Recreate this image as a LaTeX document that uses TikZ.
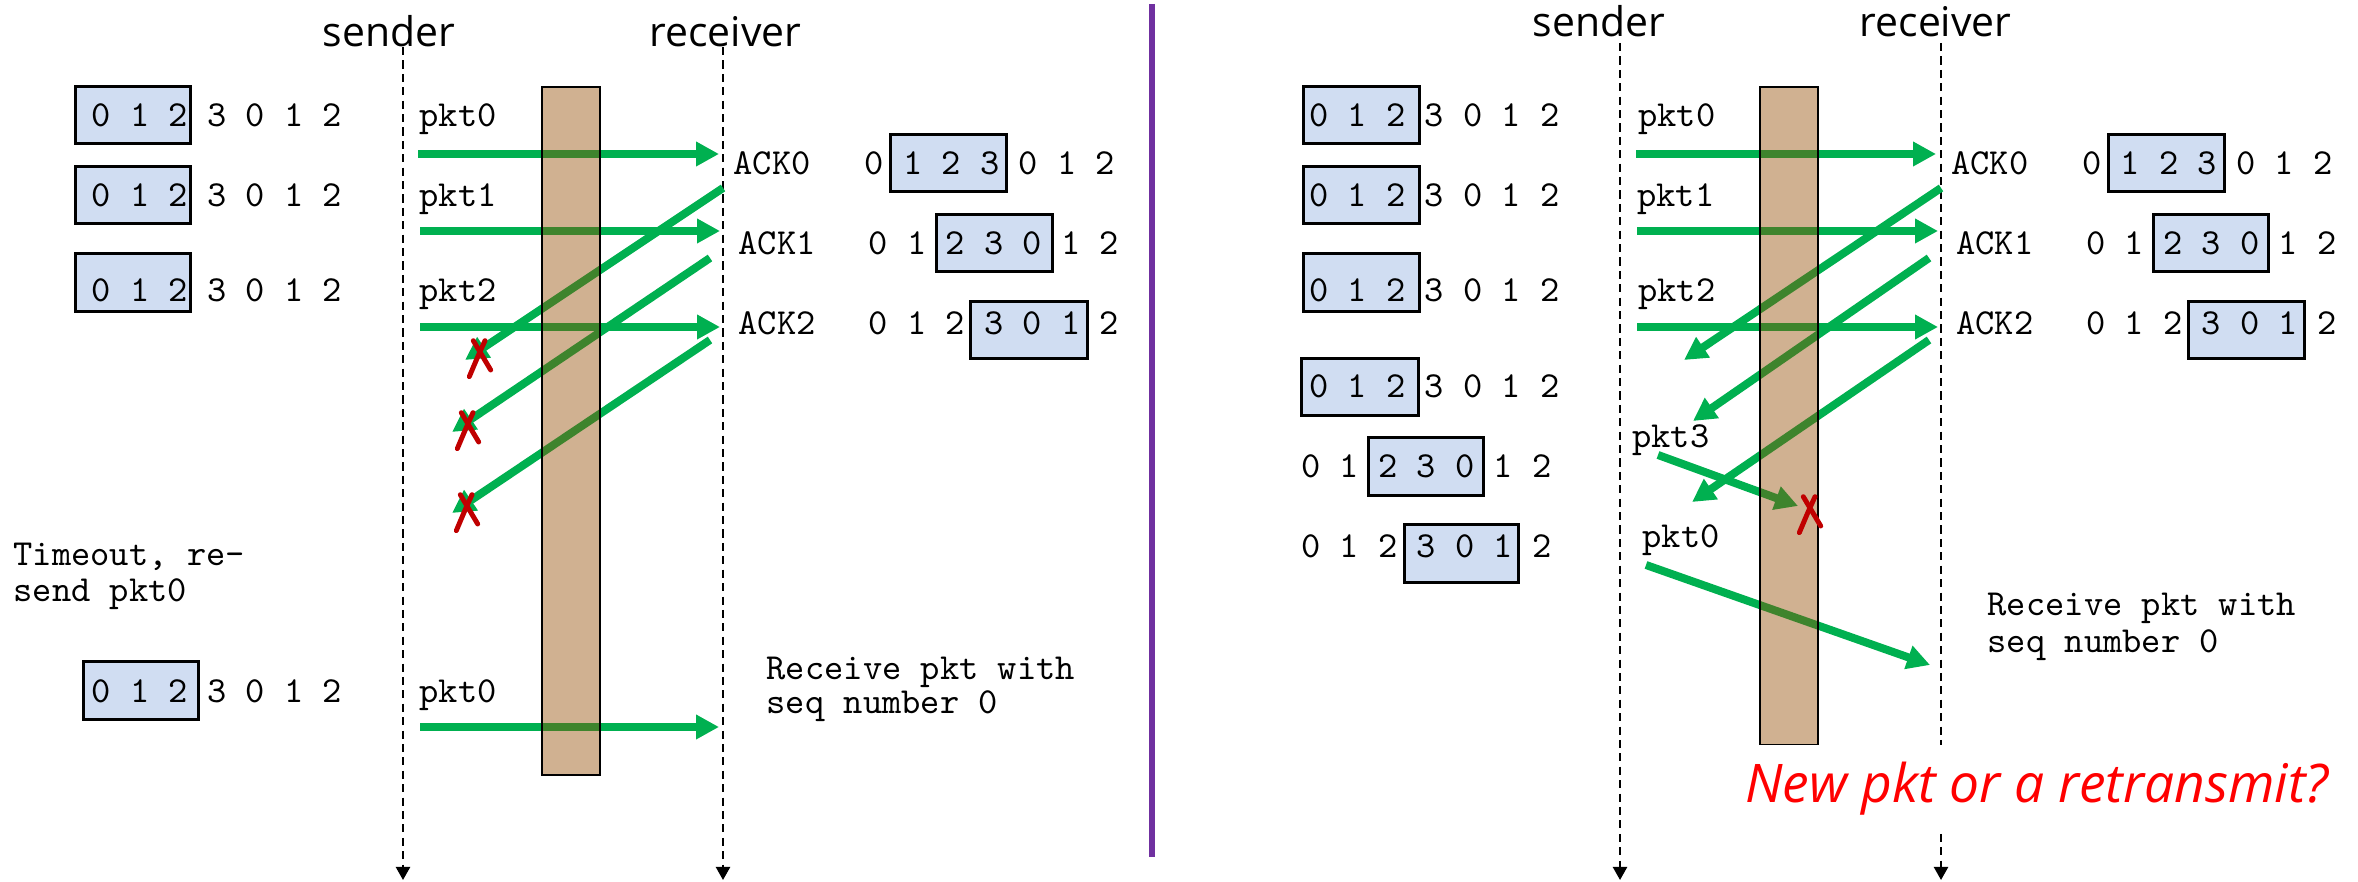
\documentclass[tikz,border=0pt]{standalone}
\usepackage{fontspec}
\setmainfont{Open Sans}
\usetikzlibrary{arrows.meta}

\definecolor{pktgreen}{RGB}{0,176,80}
\definecolor{lossred}{RGB}{192,0,0}
\definecolor{chanbrown}{RGB}{145,75,0}
\definecolor{winblue}{RGB}{208,221,242}
\definecolor{divider}{RGB}{112,48,160}
\definecolor{askred}{RGB}{255,0,0}

\tikzset{
  lane/.style={font=\fontsize{11.6}{14}\selectfont, inner sep=0pt, anchor=base},
  lifeline/.style={line width=0.6pt, dash pattern=on 2.3pt off 1.5pt,
    -{Triangle[length=3.7pt,width=4pt]}},
  mono/.style={font=\ttfamily\fontsize{10.4}{12}\selectfont, inner sep=0pt, anchor=base west},
  winbox/.style={draw=black, fill=winblue, line width=0.85pt},
  channel/.style={fill=chanbrown, fill opacity=0.43, draw=black, line width=0.75pt},
  msg/.style={draw=pktgreen, line width=2.27pt, -{Triangle[length=6.5pt,width=6.6pt]}},
  lossmark/.pic={
    \draw[lossred, line width=1.4pt, line cap=round] (-6.7,-17.3) -- (10.7,12);
    \draw[lossred, line width=1.4pt, line cap=round] (5,-17.3) .. controls (-2,-2) .. (-10.7,18.7);
  },
}

\begin{document}
\begin{tikzpicture}[x=0.28353pt, y=-0.28353pt]
\useasboundingbox (0,0) rectangle (2358,882);

% ---------- lane titles ----------
\node[lane] (Lsender)   at (389,46.5)  {sender};
\node[lane] (Lreceiver) at (725.5,46.5) {receiver};
\node[lane] (Rsender)   at (1599,37)   {sender};
\node[lane] (Rreceiver) at (1935.6,37) {receiver};

% ---------- life lines ----------
\coordinate (LsTop) at (403,47);   \coordinate (LsBot) at (403,880);
\coordinate (LrTop) at (723,47);   \coordinate (LrBot) at (723,880);
\coordinate (RsTop) at (1620,43);  \coordinate (RsBot) at (1620,880);
\coordinate (RrTop) at (1941,43);  \coordinate (RrBot) at (1941,880);
\draw[lifeline] (LsTop) -- (LsBot);
\draw[lifeline] (LrTop) -- (LrBot);
\draw[lifeline] (RsTop) -- (RsBot);
\draw[lifeline] (RrTop) -- (RrBot);

% ---------- divider ----------
\coordinate (DivTop) at (1152,4);
\coordinate (DivBot) at (1152,857);
\draw[divider, line width=1.7pt] (DivTop) -- (DivBot);

% ---------- left: sender windows ----------
\draw[winbox] (75,87) rectangle (190,144);
\draw[winbox] (75,167) rectangle (190,224);
\draw[winbox] (75,254) rectangle (190,312);
\draw[winbox] (83,662) rectangle (198,720);
\node[mono] (Lw1) at (91,126.5) {0 1 2 3 0 1 2};
\node[mono] (Lw2) at (91,206.5) {0 1 2 3 0 1 2};
\node[mono] (Lw3) at (91,301.5) {0 1 2 3 0 1 2};
\node[mono] (Lw4) at (91,702.5) {0 1 2 3 0 1 2};

% ---------- left: receiver windows ----------
\draw[winbox] (890.6,135) rectangle (1006.8,192);
\draw[winbox] (936,215) rectangle (1052,272);
\draw[winbox] (970,302) rectangle (1087,359);
\node[mono] (Lr1) at (864,174.5) {0 1 2 3 0 1 2};
\node[mono] (Lr2) at (868,254.5) {0 1 2 3 0 1 2};
\node[mono] (Lr3) at (868,334.5) {0 1 2 3 0 1 2};

% ---------- left: labels ----------
\node[mono] (Lp0)  at (419,126.5) {pkt0};
\node[mono] (Lp1)  at (419,206.5) {pkt1};
\node[mono] (Lp2)  at (419,302)   {pkt2};
\node[mono] (Lp0b) at (419,702.5) {pkt0};
\node[mono] (La0)  at (733,174.5) {ACK0};
\node[mono] (La1)  at (738,254.5) {ACK1};
\node[mono] (La2)  at (738,334.5) {ACK2};
\node[mono] (Ltimeout1) at (13,565.5) {Timeout, re-};
\node[mono] (Ltimeout2) at (13,601.7) {send pkt0};
\node[mono] (Lrecv1) at (766,679.3) {Receive pkt with};
\node[mono] (Lrecv2) at (766,714)   {seq number 0};

% ---------- right: sender windows ----------
\draw[winbox] (1303.6,87) rectangle (1419,144);
\draw[winbox] (1303.6,167) rectangle (1419,224);
\draw[winbox] (1303.6,254) rectangle (1419,312);
\draw[winbox] (1301.7,359) rectangle (1418.4,416);
\draw[winbox] (1368.7,438) rectangle (1483,496);
\draw[winbox] (1404,525) rectangle (1518.5,583);
\node[mono] (Rw1) at (1308.5,126.5) {0 1 2 3 0 1 2};
\node[mono] (Rw2) at (1308.5,206.5) {0 1 2 3 0 1 2};
\node[mono] (Rw3) at (1308.5,301.5) {0 1 2 3 0 1 2};
\node[mono] (Rw4) at (1308.5,397.5) {0 1 2 3 0 1 2};
\node[mono] (Rw5) at (1300.5,477.5) {0 1 2 3 0 1 2};
\node[mono] (Rw6) at (1300.5,557.5) {0 1 2 3 0 1 2};

% ---------- right: receiver windows ----------
\draw[winbox] (2108,135) rectangle (2224,192);
\draw[winbox] (2153,215) rectangle (2268.5,272);
\draw[winbox] (2188,302) rectangle (2304,359);
\node[mono] (Rr1) at (2081.4,174.5) {0 1 2 3 0 1 2};
\node[mono] (Rr2) at (2085.4,254.5) {0 1 2 3 0 1 2};
\node[mono] (Rr3) at (2085.4,334.5) {0 1 2 3 0 1 2};

% ---------- right: labels ----------
\node[mono] (Rp0)  at (1637.7,126.5) {pkt0};
\node[mono] (Rp1)  at (1636.5,206.5) {pkt1};
\node[mono] (Rp2)  at (1637.7,301.5) {pkt2};
\node[mono] (Rp3)  at (1631.6,448)   {pkt3};
\node[mono] (Rp0b) at (1642,548)     {pkt0};
\node[mono] (Ra0)  at (1950.5,174.5) {ACK0};
\node[mono] (Ra1)  at (1955.5,254.5) {ACK1};
\node[mono] (Ra2)  at (1955.5,334.5) {ACK2};
\node[mono] (Rrecv1) at (1987,616) {Receive pkt with};
\node[mono] (Rrecv2) at (1987,653) {seq number 0};

% ---------- message end points ----------
\coordinate (Lm0s) at (418,154);  \coordinate (Lm0e) at (719,154);
\coordinate (Lm1s) at (420,231);  \coordinate (Lm1e) at (720,231);
\coordinate (Lm2s) at (420,327);  \coordinate (Lm2e) at (720,327);
\coordinate (Lm3s) at (420,727);  \coordinate (Lm3e) at (719,727);
\coordinate (Lk0s) at (723,188);  \coordinate (Lk0e) at (465,360);
\coordinate (Lk1s) at (710,258);  \coordinate (Lk1e) at (452,432);
\coordinate (Lk2s) at (710,340);  \coordinate (Lk2e) at (452,513);

\coordinate (Rm0s) at (1636,154); \coordinate (Rm0e) at (1936,154);
\coordinate (Rm1s) at (1637,231); \coordinate (Rm1e) at (1938,231);
\coordinate (Rm2s) at (1637,327); \coordinate (Rm2e) at (1938,327);
\coordinate (Rm3s) at (1658,455); \coordinate (Rm3e) at (1798,506);
\coordinate (Rm4s) at (1646,565); \coordinate (Rm4e) at (1930,665);
\coordinate (Rk0s) at (1941,188); \coordinate (Rk0e) at (1684,360);
\coordinate (Rk1s) at (1929,258); \coordinate (Rk1e) at (1693,421);
\coordinate (Rk2s) at (1929,340); \coordinate (Rk2e) at (1692,502);

% ---------- messages ----------
\draw[msg] (Lm0s) -- (Lm0e);
\draw[msg] (Lm1s) -- (Lm1e);
\draw[msg] (Lm2s) -- (Lm2e);
\draw[msg] (Lm3s) -- (Lm3e);
\draw[msg] (Lk0s) -- (Lk0e);
\draw[msg] (Lk1s) -- (Lk1e);
\draw[msg] (Lk2s) -- (Lk2e);

\draw[msg] (Rm0s) -- (Rm0e);
\draw[msg] (Rm1s) -- (Rm1e);
\draw[msg] (Rm2s) -- (Rm2e);
\draw[msg] (Rm3s) -- (Rm3e);
\draw[msg] (Rm4s) -- (Rm4e);
\draw[msg] (Rk0s) -- (Rk0e);
\draw[msg] (Rk1s) -- (Rk1e);
\draw[msg] (Rk2s) -- (Rk2e);

% ---------- channels (translucent, over the messages) ----------
\draw[channel] (542,87) rectangle (600,775);
\draw[channel] (1760,87) rectangle (1818,745);

% ---------- losses ----------
\pic at (480,358) {lossmark};
\pic at (468,430) {lossmark};
\pic at (467,512) {lossmark};
\pic at (1810,514) {lossmark};

% ---------- question ----------
\node[font=\itshape\fontsize{15.1}{18}\selectfont, text=askred, fill=white,
      anchor=base west, inner xsep=0pt, inner ysep=5pt] (Ask) at (1744.6,803)
      {New pkt or a retransmit?};
\end{tikzpicture}
\end{document}
